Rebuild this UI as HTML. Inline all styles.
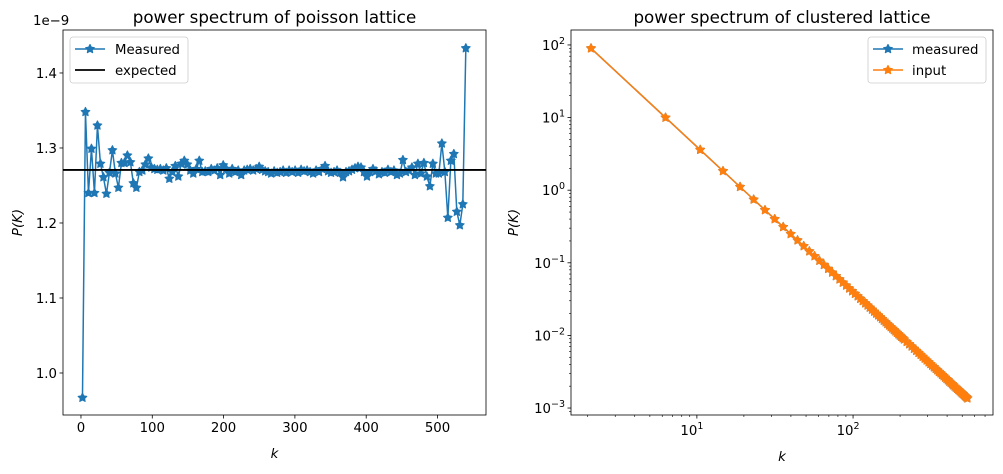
<!DOCTYPE html>
<html><head><meta charset="utf-8">
<style>
body{margin:0;background:#fff;}
svg{display:block;font-family:"DejaVu Sans","Liberation Sans",sans-serif;}
</style></head>
<body>
<svg id="fig" width="1003" height="474" viewBox="0 0 1003 474" xmlns="http://www.w3.org/2000/svg"></svg>
<script>
// ---- Left chart data (poisson lattice) ----
const kPoisson = [2.1,6.3,10.5,14.7,18.9,23.1,27.3,31.5,35.7,39.9,44.1,48.3,52.5,56.7,60.9,65.1,69.3,73.5,77.7,81.9,86.1,90.3,94.5,98.7,102.9,107.1,111.3,115.5,119.7,123.9,128.1,132.3,136.5,140.7,144.9,149.1,153.3,157.5,161.7,165.9,170.1,174.3,178.5,182.7,186.9,191.1,195.3,199.5,203.7,207.9,212.1,216.3,220.5,224.7,228.9,233.1,237.3,241.5,245.7,249.9,254.1,258.3,262.5,266.7,270.9,275.1,279.3,283.5,287.7,291.9,296.1,300.3,304.5,308.7,312.9,317.1,321.3,325.5,329.7,333.9,338.1,342.3,346.5,350.7,354.9,359.1,363.3,367.5,371.7,375.9,380.1,384.3,388.5,392.7,396.9,401.1,405.3,409.5,413.7,417.9,422.1,426.3,430.5,434.7,438.9,443.1,447.3,451.5,455.7,459.9,464.1,468.3,472.5,476.7,480.9,485.1,489.3,493.5,497.7,501.9,506.1,510.3,514.5,518.7,522.9,527.1,531.3,535.5,539.7];
const pMeasured = [0.967,1.348,1.24,1.299,1.24,1.33,1.279,1.261,1.239,1.267,1.297,1.266,1.247,1.28,1.28,1.29,1.281,1.253,1.247,1.268,1.27,1.278,1.286,1.274,1.272,1.271,1.272,1.27,1.273,1.259,1.268,1.276,1.262,1.279,1.283,1.278,1.27,1.266,1.272,1.283,1.268,1.269,1.268,1.272,1.27,1.273,1.264,1.277,1.272,1.266,1.272,1.268,1.27,1.264,1.27,1.271,1.272,1.27,1.272,1.275,1.271,1.269,1.268,1.266,1.269,1.267,1.268,1.27,1.267,1.27,1.268,1.27,1.267,1.271,1.269,1.27,1.268,1.266,1.27,1.268,1.272,1.276,1.269,1.267,1.268,1.27,1.267,1.261,1.268,1.269,1.271,1.273,1.275,1.274,1.268,1.262,1.268,1.272,1.269,1.265,1.268,1.267,1.271,1.268,1.27,1.264,1.266,1.284,1.268,1.27,1.274,1.264,1.279,1.266,1.28,1.262,1.249,1.279,1.266,1.266,1.306,1.268,1.207,1.283,1.292,1.215,1.197,1.225,1.433];
const pExpected = 1.2707;
const leftXTicks = [0,100,200,300,400,500];
const leftYTicks = [1.0,1.1,1.2,1.3,1.4];
const leftYTickLabels = ["1.0","1.1","1.2","1.3","1.4"];
// ---- Right chart data (clustered lattice) ----
const kCluster = [2.1,6.3,10.5,14.7,18.9,23.1,27.3,31.5,35.7,39.9,44.1,48.3,52.5,56.7,60.9,65.1,69.3,73.5,77.7,81.9,86.1,90.3,94.5,98.7,102.9,107.1,111.3,115.5,119.7,123.9,128.1,132.3,136.5,140.7,144.9,149.1,153.3,157.5,161.7,165.9,170.1,174.3,178.5,182.7,186.9,191.1,195.3,199.5,203.7,207.9,212.1,220.5,228.9,237.3,245.7,254.1,262.5,270.9,279.3,287.7,296.1,304.5,312.9,321.3,329.7,338.1,346.5,354.9,363.3,371.7,380.1,388.5,396.9,405.3,413.7,422.1,430.5,438.9,447.3,455.7,464.1,472.5,480.9,489.3,497.7,506.1,514.5,522.9,531.3,539.7];
const pClusterMeasured = [90,10.0,3.6,1.837,1.111,0.744,0.5325,0.4,0.3114,0.2493,0.2041,0.1701,0.144,0.1235,0.107,0.0937,0.0826,0.0735,0.0657,0.0592,0.0535,0.0487,0.0444,0.0407,0.0375,0.0346,0.032,0.0298,0.0277,0.0259,0.0242,0.0227,0.0213,0.02,0.0189,0.01785,0.01689,0.016,0.01518,0.01442,0.01372,0.01306,0.01246,0.01189,0.01136,0.01087,0.01041,0.00997,0.00957,0.00918,0.00882,0.00816,0.00758,0.00705,0.00657,0.00615,0.00576,0.00541,0.00509,0.0048,0.00453,0.00428,0.00405,0.00384,0.00365,0.00347,0.00331,0.00315,0.00301,0.00287,0.00275,0.00263,0.00252,0.00242,0.00232,0.00223,0.00214,0.00206,0.00198,0.00191,0.00184,0.00178,0.00172,0.00166,0.0016,0.00155,0.0015,0.00145,0.00141,0.00136];
const pClusterInput = [90,10.0,3.6,1.837,1.111,0.744,0.5325,0.4,0.3114,0.2493,0.2041,0.1701,0.144,0.1235,0.107,0.0937,0.0826,0.0735,0.0657,0.0592,0.0535,0.0487,0.0444,0.0407,0.0375,0.0346,0.032,0.0298,0.0277,0.0259,0.0242,0.0227,0.0213,0.02,0.0189,0.01785,0.01689,0.016,0.01518,0.01442,0.01372,0.01306,0.01246,0.01189,0.01136,0.01087,0.01041,0.00997,0.00957,0.00918,0.00882,0.00816,0.00758,0.00705,0.00657,0.00615,0.00576,0.00541,0.00509,0.0048,0.00453,0.00428,0.00405,0.00384,0.00365,0.00347,0.00331,0.00315,0.00301,0.00287,0.00275,0.00263,0.00252,0.00242,0.00232,0.00223,0.00214,0.00206,0.00198,0.00191,0.00184,0.00178,0.00172,0.00166,0.0016,0.00155,0.0015,0.00145,0.00141,0.00136];
const rightXTickExps = [1,2];
const rightYTickExps = [-3,-2,-1,0,1,2];

const NS="http://www.w3.org/2000/svg";
const svg=document.getElementById('fig');
function mk(tag,attrs,parent){const e=document.createElementNS(NS,tag);for(const k in attrs)e.setAttribute(k,attrs[k]);(parent||svg).appendChild(e);return e;}
function starPath(cx,cy,r){let d="";for(let i=0;i<10;i++){const rr=i%2?r*0.5:r;const a=-Math.PI/2+i*Math.PI/5;d+=(i?"L":"M")+(cx+rr*Math.cos(a)).toFixed(2)+","+(cy+rr*Math.sin(a)).toFixed(2);}return d+"Z";}
const SR=4.6;

// ===== Left axes =====
const L={x0:63,x1:486,y0:30,y1:415,xmin:-25.2,xmax:568,ymin:0.944,ymax:1.4573};
const lx=v=>L.x0+(v-L.xmin)/(L.xmax-L.xmin)*(L.x1-L.x0);
const ly=v=>L.y1-(v-L.ymin)/(L.ymax-L.ymin)*(L.y1-L.y0);
const gL=mk('g',{});


let pts=kPoisson.map((k,i)=>lx(k).toFixed(2)+","+ly(pMeasured[i]).toFixed(2)).join(" ");
const lineL=mk('polyline',{points:pts,fill:'none',stroke:'#1f77b4','stroke-width':1.5,'stroke-linejoin':'round'},gL);


kPoisson.forEach((k,i)=>{const s=mk('path',{d:starPath(lx(k),ly(pMeasured[i]),SR),fill:'#1f77b4',stroke:'#1f77b4','stroke-width':1,'stroke-linejoin':'round'},gL);

});
const exp=mk('line',{x1:L.x0,x2:L.x1,y1:ly(pExpected),y2:ly(pExpected),stroke:'#000','stroke-width':1.8},gL);


mk('rect',{x:L.x0,y:L.y0,width:L.x1-L.x0,height:L.y1-L.y0,fill:'none',stroke:'#000','stroke-width':0.8},gL);
leftXTicks.forEach(t=>{const x=lx(t);mk('line',{x1:x,x2:x,y1:L.y1,y2:L.y1+3.5,stroke:'#000','stroke-width':0.8},gL);
const tx=mk('text',{x:x,y:L.y1+17,'text-anchor':'middle','font-size':13.3},gL);tx.textContent=t;

});
leftYTicks.forEach((t,i)=>{const y=ly(t);mk('line',{x1:L.x0-3.5,x2:L.x0,y1:y,y2:y,stroke:'#000','stroke-width':0.8},gL);
const tx=mk('text',{x:L.x0-6,y:y+4.8,'text-anchor':'end','font-size':13.3},gL);tx.textContent=leftYTickLabels[i];

});
let t=mk('text',{x:L.x0-30,y:L.y0-5,'font-size':13.3},gL);t.textContent='1e\u22129';

t=mk('text',{x:(L.x0+L.x1)/2,y:L.y0-7,'text-anchor':'middle','font-size':16.7},gL);t.textContent='power spectrum of poisson lattice';

t=mk('text',{x:(L.x0+L.x1)/2,y:458,'text-anchor':'middle','font-size':13.3,'font-style':'italic'},gL);t.textContent='k';

t=mk('text',{x:0,y:0,'text-anchor':'middle','font-size':13.3,'font-style':'italic',transform:`translate(22,${(L.y0+L.y1)/2}) rotate(-90)`},gL);t.textContent='P(K)';

// legend left
const lg=mk('g',{},gL);

mk('rect',{x:70,y:37,width:118,height:46,rx:3,fill:'#fff','fill-opacity':0.8,stroke:'#ccc','stroke-width':0.8},lg);
mk('line',{x1:75,x2:105,y1:49,y2:49,stroke:'#1f77b4','stroke-width':1.5},lg);
mk('path',{d:starPath(90,49,SR),fill:'#1f77b4',stroke:'#1f77b4','stroke-width':1,'stroke-linejoin':'round'},lg);
t=mk('text',{x:115,y:54,'font-size':13.3},lg);t.textContent='Measured';

mk('line',{x1:75,x2:105,y1:70,y2:70,stroke:'#000','stroke-width':1.8},lg);
t=mk('text',{x:115,y:75,'font-size':13.3},lg);t.textContent='expected';


// ===== Right axes (log-log) =====
const R={x0:571,x1:993,y0:30,y1:415,lxmin:0.194,lxmax:2.896,lymin:-3.096,lymax:2.206};
const rx=v=>R.x0+(Math.log10(v)-R.lxmin)/(R.lxmax-R.lxmin)*(R.x1-R.x0);
const ry=v=>R.y1-(Math.log10(v)-R.lymin)/(R.lymax-R.lymin)*(R.y1-R.y0);
const gR=mk('g',{});


function series(vals,color,name){
  const p=kCluster.map((k,i)=>rx(k).toFixed(2)+","+ry(vals[i]).toFixed(2)).join(" ");
  const l=mk('polyline',{points:p,fill:'none',stroke:color,'stroke-width':1.5},gR);
  
  
  kCluster.forEach((k,i)=>{const s=mk('path',{d:starPath(rx(k),ry(vals[i]),SR),fill:color,stroke:color,'stroke-width':1,'stroke-linejoin':'round'},gR);
  
  });
}
series(pClusterMeasured,'#1f77b4','measured');
series(pClusterInput,'#ff7f0e','input');
mk('rect',{x:R.x0,y:R.y0,width:R.x1-R.x0,height:R.y1-R.y0,fill:'none',stroke:'#000','stroke-width':0.8},gR);
for(let e=0;e<=2;e++)for(let m=1;m<=9;m++){const v=m*Math.pow(10,e);const lv=Math.log10(v);if(lv<R.lxmin||lv>R.lxmax)continue;const x=rx(v);
mk('line',{x1:x,x2:x,y1:R.y1,y2:R.y1+(m===1?3.5:2),stroke:'#000','stroke-width':m===1?0.8:0.6},gR);}
for(let e=-4;e<=2;e++)for(let m=1;m<=9;m++){const v=m*Math.pow(10,e);const lv=Math.log10(v);if(lv<R.lymin||lv>R.lymax)continue;const y=ry(v);
mk('line',{x1:R.x0-(m===1?3.5:2),x2:R.x0,y1:y,y2:y,stroke:'#000','stroke-width':m===1?0.8:0.6},gR);}
rightXTickExps.forEach(e=>{const x=rx(Math.pow(10,e));const tx=mk('text',{x:x-5,y:R.y1+20,'text-anchor':'middle','font-size':13.3},gR);
tx.innerHTML='10<tspan dy="-6" font-size="9.5">'+e+'</tspan>';

});
rightYTickExps.forEach(e=>{const y=ry(Math.pow(10,e));const lab=e<0?'\u2212'+(-e):''+e;const tx=mk('text',{x:R.x0-6,y:y+5,'text-anchor':'end','font-size':13.3},gR);
tx.innerHTML='10<tspan dy="-6" font-size="9.5">'+lab+'</tspan>';

});
t=mk('text',{x:(R.x0+R.x1)/2,y:R.y0-7,'text-anchor':'middle','font-size':16.7},gR);t.textContent='power spectrum of clustered lattice';

t=mk('text',{x:(R.x0+R.x1)/2,y:461,'text-anchor':'middle','font-size':13.3,'font-style':'italic'},gR);t.textContent='k';

t=mk('text',{x:0,y:0,'text-anchor':'middle','font-size':13.3,'font-style':'italic',transform:`translate(518,${(R.y0+R.y1)/2}) rotate(-90)`},gR);t.textContent='P(K)';

const rg=mk('g',{},gR);

mk('rect',{x:868,y:37,width:118,height:46,rx:3,fill:'#fff','fill-opacity':0.8,stroke:'#ccc','stroke-width':0.8},rg);
mk('line',{x1:873,x2:903,y1:49,y2:49,stroke:'#1f77b4','stroke-width':1.5},rg);
mk('path',{d:starPath(888,49,SR),fill:'#1f77b4',stroke:'#1f77b4','stroke-width':1,'stroke-linejoin':'round'},rg);
t=mk('text',{x:912,y:54,'font-size':13.3},rg);t.textContent='measured';

mk('line',{x1:873,x2:903,y1:70,y2:70,stroke:'#ff7f0e','stroke-width':1.5},rg);
mk('path',{d:starPath(888,70,SR),fill:'#ff7f0e',stroke:'#ff7f0e','stroke-width':1,'stroke-linejoin':'round'},rg);
t=mk('text',{x:912,y:75,'font-size':13.3},rg);t.textContent='input';

</script>
</body></html>
